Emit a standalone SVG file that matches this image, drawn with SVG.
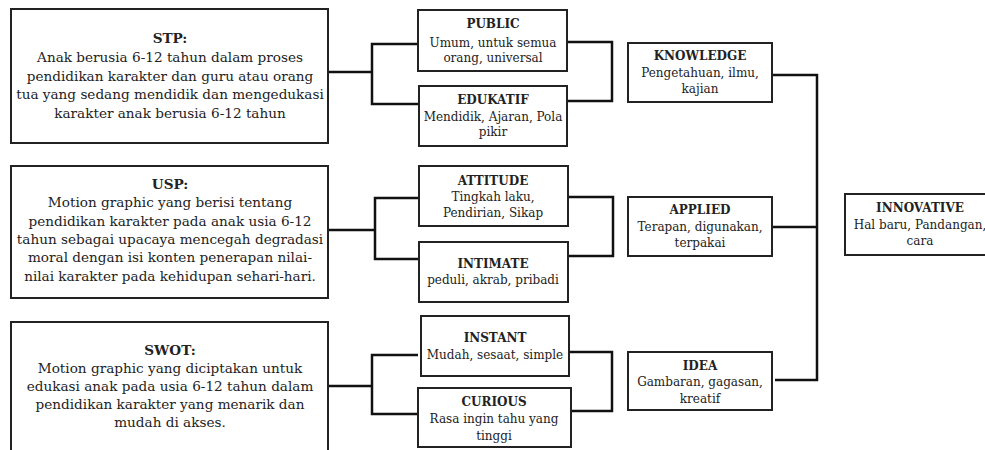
<svg xmlns="http://www.w3.org/2000/svg" width="985" height="450" viewBox="0 0 985 450">
<style>
.box{fill:#fff;stroke:#222;stroke-width:2}
.c{fill:none;stroke:#111;stroke-width:2.5}
text{font-family:"DejaVu Serif",serif;fill:#222;text-anchor:middle}
.big{font-size:13.6px}
.sm{font-size:12px}
.b{font-weight:bold}
</style>
<rect width="985" height="450" fill="#fff"/>
<g id="connectors">
<path class="c" d="M328,72H372M418,44H372V104H419"/>
<path class="c" d="M567,42H612V101H567"/>
<path class="c" d="M328,230H375M419,198H375V259H419"/>
<path class="c" d="M568,197H613V256H568"/>
<path class="c" d="M328,386H372M418,355H372V414H418"/>
<path class="c" d="M568,352H612V411H568"/>
<path class="c" d="M772,75H817V380H775M772,227H817"/>
</g>
<g id="stp">
<rect class="box" x="11" y="9" width="317" height="134"/>
<text class="big" x="170" y="43"><tspan class="b">STP:</tspan><tspan x="170" y="62">Anak berusia 6-12 tahun dalam proses</tspan><tspan x="170" y="81">pendidikan karakter dan guru atau orang</tspan><tspan x="170" y="99">tua yang sedang mendidik dan mengedukasi</tspan><tspan x="170" y="118">karakter anak berusia 6-12 tahun</tspan></text>
</g>
<g id="usp">
<rect class="box" x="11" y="166" width="317" height="132"/>
<text class="big" x="170" y="189"><tspan class="b">USP:</tspan><tspan x="170" y="207">Motion graphic yang berisi tentang</tspan><tspan x="170" y="226">pendidikan karakter pada anak usia 6-12</tspan><tspan x="170" y="244">tahun sebagai upacaya mencegah degradasi</tspan><tspan x="170" y="262">moral dengan isi konten penerapan nilai-</tspan><tspan x="170" y="281">nilai karakter pada kehidupan sehari-hari.</tspan></text>
</g>
<g id="swot">
<rect class="box" x="11" y="322" width="317" height="140"/>
<text class="big" x="170" y="355"><tspan class="b">SWOT:</tspan><tspan x="170" y="373">Motion graphic yang diciptakan untuk</tspan><tspan x="170" y="391">edukasi anak pada usia 6-12 tahun dalam</tspan><tspan x="170" y="409">pendidikan karakter yang menarik dan</tspan><tspan x="170" y="427">mudah di akses.</tspan></text>
</g>
<g id="public">
<rect class="box" x="418" y="10" width="149" height="61"/>
<text class="sm" x="493" y="28"><tspan class="b">PUBLIC</tspan><tspan x="493" y="47">Umum, untuk semua</tspan><tspan x="493" y="62">orang, universal</tspan></text>
</g>
<g id="edukatif">
<rect class="box" x="419" y="86" width="148" height="60"/>
<text class="sm" x="493" y="104"><tspan class="b">EDUKATIF</tspan><tspan x="493" y="121">Mendidik, Ajaran, Pola</tspan><tspan x="493" y="136">pikir</tspan></text>
</g>
<g id="attitude">
<rect class="box" x="419" y="166" width="149" height="60"/>
<text class="sm" x="493" y="185"><tspan class="b">ATTITUDE</tspan><tspan x="493" y="201">Tingkah laku,</tspan><tspan x="493" y="217">Pendirian, Sikap</tspan></text>
</g>
<g id="intimate">
<rect class="box" x="419" y="242" width="149" height="60"/>
<text class="sm" x="493" y="268"><tspan class="b">INTIMATE</tspan><tspan x="493" y="284">peduli, akrab, pribadi</tspan></text>
</g>
<g id="instant">
<rect class="box" x="421" y="316" width="148" height="60"/>
<text class="sm" x="495" y="342"><tspan class="b">INSTANT</tspan><tspan x="495" y="359">Mudah, sesaat, simple</tspan></text>
</g>
<g id="curious">
<rect class="box" x="418" y="388" width="153" height="59"/>
<text class="sm" x="494" y="406"><tspan class="b">CURIOUS</tspan><tspan x="494" y="423">Rasa ingin tahu yang</tspan><tspan x="494" y="440">tinggi</tspan></text>
</g>
<g id="knowledge">
<rect class="box" x="628" y="43" width="144" height="59"/>
<text class="sm" x="700" y="60"><tspan class="b">KNOWLEDGE</tspan><tspan x="700" y="77">Pengetahuan, ilmu,</tspan><tspan x="700" y="93">kajian</tspan></text>
</g>
<g id="applied">
<rect class="box" x="628" y="197" width="144" height="59"/>
<text class="sm" x="700" y="214"><tspan class="b">APPLIED</tspan><tspan x="700" y="231">Terapan, digunakan,</tspan><tspan x="700" y="247">terpakai</tspan></text>
</g>
<g id="idea">
<rect class="box" x="628" y="352" width="144" height="58"/>
<text class="sm" x="700" y="370"><tspan class="b">IDEA</tspan><tspan x="700" y="386">Gambaran, gagasan,</tspan><tspan x="700" y="403">kreatif</tspan></text>
</g>
<g id="innovative">
<rect class="box" x="845" y="194" width="150" height="61"/>
<text class="sm" x="920" y="212"><tspan class="b">INNOVATIVE</tspan><tspan x="920" y="229">Hal baru, Pandangan,</tspan><tspan x="920" y="245">cara</tspan></text>
</g>
</svg>
